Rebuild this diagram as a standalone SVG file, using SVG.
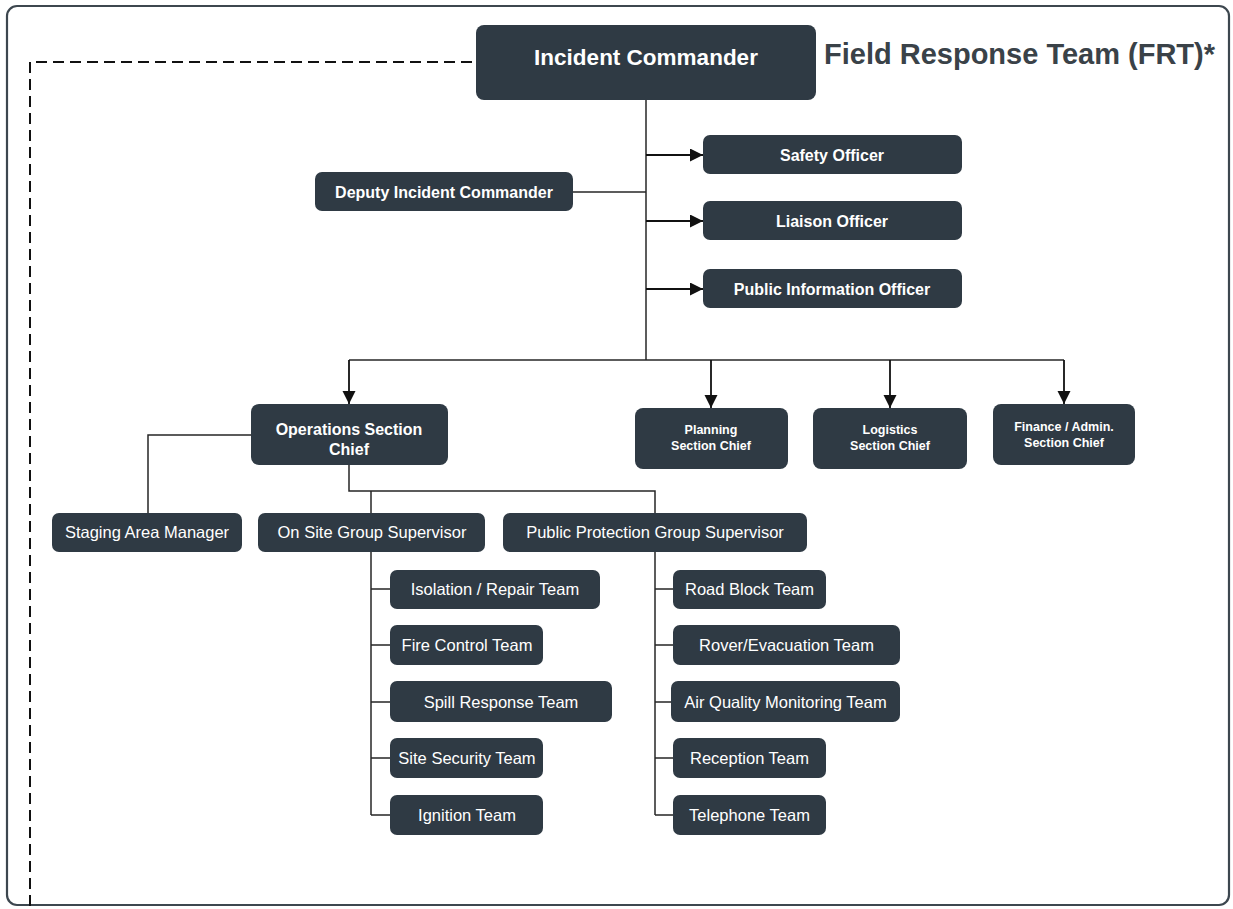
<svg xmlns="http://www.w3.org/2000/svg" width="1233" height="909" viewBox="0 0 1233 909">
<style>
.box{fill:#2f3a44;}
.t{fill:#ffffff;font-family:"Liberation Sans",Arial,sans-serif;text-anchor:middle;}
.b{font-weight:bold;}
.r{font-size:16.5px;}
.bm{font-size:16px;}
.sm{font-size:12.5px;font-weight:bold;}
.c{fill:none;stroke:#262626;stroke-width:1.5;}
.ca{fill:none;stroke:#111;stroke-width:1.8;marker-end:url(#ah);}
</style>
<defs>
<marker id="ah" markerUnits="userSpaceOnUse" markerWidth="14" markerHeight="14" refX="13" refY="6.5" orient="auto">
<path d="M0,0 L13,6.5 L0,13 z" fill="#111"/>
</marker>
</defs>
<rect x="0" y="0" width="1233" height="909" fill="#ffffff"/>
<rect x="7" y="6" width="1222" height="899" rx="10" fill="none" stroke="#3d474f" stroke-width="2.2"/>
<path d="M472,62 H30 V909" fill="none" stroke="#111" stroke-width="2" stroke-dasharray="11,6"/>
<text x="824" y="64" font-family="'Liberation Sans',Arial,sans-serif" font-size="29" font-weight="bold" fill="#3a4248">Field Response Team (FRT)*</text>

<g id="connectors">
<path class="c" d="M646,100 V360"/>
<path class="c" d="M573,192 H646"/>
<path class="ca" d="M646,155 H703"/>
<path class="ca" d="M646,221 H703"/>
<path class="ca" d="M646,289 H703"/>
<path class="c" d="M349,360 H1064"/>
<path class="ca" d="M349,360 V404"/>
<path class="ca" d="M711,360 V408"/>
<path class="ca" d="M890,360 V408"/>
<path class="ca" d="M1064,360 V404"/>
<path class="c" d="M251,435 H148 V513"/>
<path class="c" d="M349,465 V491 H655 V513"/>
<path class="c" d="M371,491 V513"/>
<path class="c" d="M371,552 V815"/>
<path class="c" d="M371,589 H390 M371,645 H390 M371,702 H390 M371,758 H390 M371,815 H390"/>
<path class="c" d="M655,552 V815"/>
<path class="c" d="M655,589 H673 M655,645 H673 M655,702 H671 M655,758 H673 M655,815 H673"/>
</g>

<g id="incident-commander"><rect class="box" x="476" y="25" width="340" height="75" rx="8"/><text class="t b" x="646" y="65" font-size="22.5">Incident Commander</text></g>
<g id="deputy"><rect class="box" x="315" y="172" width="258" height="39" rx="7"/><text class="t b bm" x="444" y="198">Deputy Incident Commander</text></g>
<g id="safety"><rect class="box" x="703" y="135" width="259" height="39" rx="7"/><text class="t b bm" x="832" y="161">Safety Officer</text></g>
<g id="liaison"><rect class="box" x="703" y="201" width="259" height="39" rx="7"/><text class="t b bm" x="832" y="227">Liaison Officer</text></g>
<g id="pio"><rect class="box" x="703" y="269" width="259" height="39" rx="7"/><text class="t b bm" x="832" y="295">Public Information Officer</text></g>

<g id="operations"><rect class="box" x="251" y="404" width="197" height="61" rx="8"/><text class="t b bm" x="349" y="435">Operations Section</text><text class="t b bm" x="349" y="455">Chief</text></g>
<g id="planning"><rect class="box" x="635" y="408" width="153" height="61" rx="8"/><text class="t sm" x="711" y="434">Planning</text><text class="t sm" x="711" y="450">Section Chief</text></g>
<g id="logistics"><rect class="box" x="813" y="408" width="154" height="61" rx="8"/><text class="t sm" x="890" y="434">Logistics</text><text class="t sm" x="890" y="450">Section Chief</text></g>
<g id="finance"><rect class="box" x="993" y="404" width="142" height="61" rx="8"/><text class="t sm" x="1064" y="431">Finance / Admin.</text><text class="t sm" x="1064" y="447">Section Chief</text></g>

<g id="staging"><rect class="box" x="52" y="513" width="190" height="39" rx="7"/><text class="t r" x="147" y="538">Staging Area Manager</text></g>
<g id="onsite"><rect class="box" x="258" y="513" width="227" height="39" rx="7"/><text class="t r" x="372" y="538">On Site Group Supervisor</text></g>
<g id="public-protection"><rect class="box" x="503" y="513" width="304" height="39" rx="7"/><text class="t r" x="655" y="538">Public Protection Group Supervisor</text></g>

<g id="isolation"><rect class="box" x="390" y="570" width="210" height="39" rx="7"/><text class="t r" x="495" y="595">Isolation / Repair Team</text></g>
<g id="fire"><rect class="box" x="390" y="625" width="153" height="40" rx="7"/><text class="t r" x="467" y="651">Fire Control Team</text></g>
<g id="spill"><rect class="box" x="390" y="681" width="222" height="41" rx="7"/><text class="t r" x="501" y="708">Spill Response Team</text></g>
<g id="security"><rect class="box" x="390" y="738" width="153" height="40" rx="7"/><text class="t r" x="467" y="764">Site Security Team</text></g>
<g id="ignition"><rect class="box" x="390" y="795" width="153" height="40" rx="7"/><text class="t r" x="467" y="821">Ignition Team</text></g>

<g id="roadblock"><rect class="box" x="673" y="570" width="153" height="39" rx="7"/><text class="t r" x="749.5" y="595">Road Block Team</text></g>
<g id="rover"><rect class="box" x="673" y="625" width="227" height="40" rx="7"/><text class="t r" x="786.5" y="651">Rover/Evacuation Team</text></g>
<g id="airquality"><rect class="box" x="671" y="681" width="229" height="41" rx="7"/><text class="t r" x="785.5" y="708">Air Quality Monitoring Team</text></g>
<g id="reception"><rect class="box" x="673" y="738" width="153" height="40" rx="7"/><text class="t r" x="749.5" y="764">Reception Team</text></g>
<g id="telephone"><rect class="box" x="673" y="795" width="153" height="40" rx="7"/><text class="t r" x="749.5" y="821">Telephone Team</text></g>
</svg>
